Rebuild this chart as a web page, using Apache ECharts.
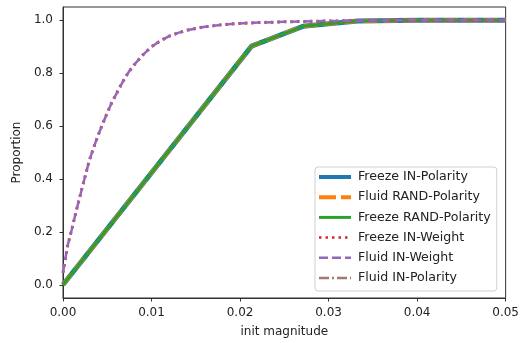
<!DOCTYPE html>
<html><head><meta charset="utf-8">
<script src="https://cdn.jsdelivr.net/npm/echarts@6/dist/echarts.min.js"></script>
<style>html,body{margin:0;padding:0;background:#fff}#c{width:522px;height:343px}</style>
</head><body><div id="c"></div>
<script>
// Data
const linearX = [0, 0.0213, 0.0271, 0.0333, 0.040, 0.050];
const linearY = [0, 0.902, 0.977, 0.997, 1.0, 1.0];
const curveX = [0, 0.0005, 0.001, 0.0015, 0.002, 0.0025, 0.003, 0.0035, 0.004, 0.0045, 0.005, 0.0055, 0.006, 0.0065, 0.007, 0.0075, 0.008, 0.009, 0.010, 0.011, 0.012, 0.013, 0.014, 0.016, 0.018, 0.020, 0.022, 0.025, 0.030, 0.035, 0.040, 0.045, 0.050];
const curveY = [0.045, 0.145, 0.21, 0.28, 0.345, 0.41, 0.473, 0.522, 0.568, 0.61, 0.65, 0.688, 0.72, 0.752, 0.782, 0.808, 0.83, 0.868, 0.9, 0.922, 0.94, 0.952, 0.962, 0.975, 0.983, 0.988, 0.991, 0.994, 0.997, 0.999, 1.0, 1.0, 1.0];
const yTicks = [0, 0.2, 0.4, 0.6, 0.8, 1.0];
const xTicks = [0, 0.01, 0.02, 0.03, 0.04, 0.05];
const names = ['Freeze IN-Polarity', 'Fluid RAND-Polarity', 'Freeze RAND-Polarity', 'Freeze IN-Weight', 'Fluid IN-Weight', 'Fluid IN-Polarity'];

const pairs = (xs, ys) => xs.map((x, i) => [x, ys[i]]);
const lin = pairs(linearX, linearY);
const cur = pairs(curveX, curveY);

const font = 'DejaVu Sans';
const styles = {
  'Freeze IN-Polarity':   {color: '#1f77b4', width: 5, type: 'solid', z: 2, data: lin, lw: 4},
  'Fluid IN-Polarity':    {color: '#8c564b', width: 2, type: [12, 3, 2, 3], z: 3, data: lin, lw: 2.5, lt: [10, 3, 2, 3], op: 0.8},
  'Fluid RAND-Polarity':  {color: '#ff7f0e', width: 4, type: [14, 6], z: 4, data: lin, lw: 4, lt: [17, 5]},
  'Freeze RAND-Polarity': {color: '#2ca02c', width: 3, type: 'solid', z: 5, data: lin, lw: 3},
  'Freeze IN-Weight':     {color: '#d62728', width: 3, type: [2.5, 4], z: 6, data: cur, lw: 2.5, lt: [2.5, 4]},
  'Fluid IN-Weight':      {color: '#9467bd', width: 2.5, type: [9, 4], z: 7, data: cur, lw: 2.5, lt: [9, 4]}
};
const series = names.map(n => {
  const s = styles[n];
  return {name: n, type: 'line', data: s.data, symbol: 'none', z: s.z, silent: true,
    lineStyle: {color: s.color, width: s.width, type: s.type, cap: 'butt'}, itemStyle: {color: s.color}};
});
const legendData = names.map(n => {
  const s = styles[n];
  return {name: n, itemStyle: {opacity: 0},
    lineStyle: {color: s.color, width: s.lw, type: s.lt || 'solid', cap: 'butt', opacity: s.op || 1}};
});

const chart = echarts.init(document.getElementById('c'), null, {renderer: 'canvas'});
chart.setOption({
  animation: false,
  backgroundColor: '#fff',
  grid: {left: 63, right: 13, top: 7, bottom: 45, show: true, borderColor: '#333', borderWidth: 1, backgroundColor: 'transparent'},
  xAxis: {
    type: 'value', min: 0, max: 0.05, interval: 0.01,
    name: 'init magnitude', nameLocation: 'middle', nameGap: 28,
    nameTextStyle: {fontFamily: font, fontSize: 12, color: '#222'},
    axisLine: {show: true, onZero: false, lineStyle: {color: '#333', width: 1}},
    axisTick: {show: true, length: 3.5, lineStyle: {color: '#333'}, customValues: xTicks},
    axisLabel: {fontFamily: font, fontSize: 12, color: '#222', margin: 9, customValues: xTicks,
      formatter: v => v.toFixed(2)},
    splitLine: {show: false}
  },
  yAxis: {
    type: 'value', min: -0.05, max: 1.05,
    name: 'Proportion', nameLocation: 'middle', nameGap: 37,
    nameTextStyle: {fontFamily: font, fontSize: 12, color: '#222'},
    axisLine: {show: true, onZero: false, lineStyle: {color: '#333', width: 1}},
    axisTick: {show: true, length: 3.5, lineStyle: {color: '#333'}, customValues: yTicks},
    axisLabel: {fontFamily: font, fontSize: 12, color: '#222', margin: 10, customValues: yTicks,
      formatter: v => v.toFixed(1)},
    splitLine: {show: false}
  },
  legend: {
    orient: 'vertical', left: 315, top: 167,
    data: legendData,
    itemWidth: 32, itemHeight: 10, itemGap: 6.2,
    padding: [3, 6, 6, 2],
    backgroundColor: 'rgba(255,255,255,0.8)', borderColor: '#d0d0d0', borderWidth: 1, borderRadius: 3,
    textStyle: {fontFamily: font, fontSize: 12.6, color: '#222', lineHeight: 14, padding: [0, 0, 0, 2]},
    selectedMode: false
  },
  series
});
</script></body></html>
